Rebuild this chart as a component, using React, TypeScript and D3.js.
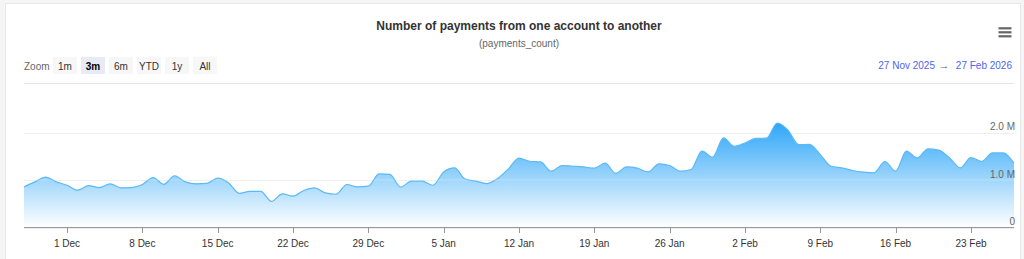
import React from "react";
import * as d3 from "d3";

// Daily payments_count (millions), 27 Nov 2025 .. 27 Feb 2026
const novValues = [0.855, 0.96, 1.06, 0.96];
const decValues = [
  0.89, 0.785, 0.88, 0.84, 0.92, 0.835, 0.84, 0.905, 1.05, 0.91, 1.09, 0.96, 0.92, 0.93, 1.04, 0.94,
  0.72, 0.76, 0.76, 0.55, 0.71, 0.66, 0.78, 0.835, 0.73, 0.7, 0.905, 0.855, 0.87, 1.13, 1.12,
];
const janValues = [
  0.85, 0.975, 0.975, 0.89, 1.17, 1.255, 1.02, 0.975, 0.925, 1.03, 1.23, 1.46, 1.395, 1.38, 1.185, 1.305,
  1.29, 1.275, 1.25, 1.355, 1.14, 1.275, 1.25, 1.17, 1.34, 1.305, 1.185, 1.22, 1.61, 1.48, 1.885,
];
const febValues = [
  1.71, 1.78, 1.875, 1.88, 2.2, 2.05, 1.745, 1.75, 1.535, 1.29, 1.255, 1.2, 1.165, 1.15, 1.39, 1.185,
  1.61, 1.465, 1.655, 1.63, 1.47, 1.255, 1.47, 1.39, 1.57, 1.57, 1.35,
];
const startDate = new Date(2025, 10, 27);
const endDate = new Date(2026, 1, 27);
const yTicks = [0, 1e6, 2e6];
const yTickLabels = ["0", "1.0 M", "2.0 M"];
const xTickDates = [
  new Date(2025, 11, 1), new Date(2025, 11, 8), new Date(2025, 11, 15), new Date(2025, 11, 22),
  new Date(2025, 11, 29), new Date(2026, 0, 5), new Date(2026, 0, 12), new Date(2026, 0, 19),
  new Date(2026, 0, 26), new Date(2026, 1, 2), new Date(2026, 1, 9), new Date(2026, 1, 16),
  new Date(2026, 1, 23),
];
const zoomButtons = ["1m", "3m", "6m", "YTD", "1y", "All"];
const selectedZoom = "3m";
const title = "Number of payments from one account to another";
const subtitle = "(payments_count)";
const rangeFrom = "27 Nov 2025";
const rangeTo = "27 Feb 2026";

const W = 1024;
const H = 259;
const FONT = '"Liberation Sans", Arial, Helvetica, sans-serif';

export default function App() {
  const allValues = [...novValues, ...decValues, ...janValues, ...febValues];
  const data = allValues.map((v, i) => ({ date: d3.timeDay.offset(startDate, i), value: v * 1e6 }));

  const x = d3.scaleTime().domain([startDate, endDate]).range([24, 1014]);
  const y = d3.scaleLinear().domain([0, 3e6]).range([227.5, 85]);

  const area = d3
    .area<{ date: Date; value: number }>()
    .x((d) => x(d.date))
    .y0(y(0))
    .y1((d) => y(d.value))
    .curve(d3.curveMonotoneX);
  const line = d3
    .line<{ date: Date; value: number }>()
    .x((d) => x(d.date))
    .y((d) => y(d.value))
    .curve(d3.curveMonotoneX);

  const maxV = d3.max(data, (d) => d.value) as number;
  const fmt = d3.timeFormat("%-d %b");

  return (
    <svg
      width={W}
      height={H}
      style={{ position: "absolute", left: 0, top: 0, fontFamily: FONT }}
    >
      <defs>
        <linearGradient id="areaGrad" gradientUnits="userSpaceOnUse" x1="0" x2="0" y1={y(maxV)} y2={y(0)}>
          <stop offset="0" stopColor="#2fa6f8" />
          <stop offset="1" stopColor="#ffffff" />
        </linearGradient>
        <clipPath id="plotClip">
          <rect x={24} y={80} width={990} height={148} />
        </clipPath>
      </defs>
      <rect x={0} y={0} width={W} height={H} fill="#f5f5f5" />
      <rect x={5.5} y={3.5} width={1015} height={H} fill="#ffffff" stroke="#e8e8e8" />

      {/* title */}
      <text x={519} y={30} textAnchor="middle" fontSize={12} fontWeight="bold" fill="#333333">
        {title}
      </text>
      <text x={519} y={47} textAnchor="middle" fontSize={10} fill="#666666">
        {subtitle}
      </text>

      {/* hamburger */}
      {[28.3, 32.3, 36.3].map((yy) => (
        <line key={yy} x1={998.5} x2={1011.5} y1={yy} y2={yy} stroke="#666666" strokeWidth={2.2} />
      ))}

      {/* range selector */}
      <text x={24} y={69.5} fontSize={10} fill="#666666">
        Zoom
      </text>
      {zoomButtons.map((b, i) => {
        const bx = 53 + i * 28;
        const sel = b === selectedZoom;
        return (
          <g key={b}>
            <rect x={bx} y={57} width={24} height={17} fill={sel ? "#e6ebf5" : "#f7f7f7"} />
            <text
              x={bx + 12}
              y={69.5}
              textAnchor="middle"
              fontSize={10}
              fontWeight={sel ? "bold" : "normal"}
              fill={sel ? "#000000" : "#333333"}
            >
              {b}
            </text>
          </g>
        );
      })}
      <text x={935} y={69} textAnchor="end" fontSize={10} fill="#4f63ef">
        {rangeFrom}
      </text>
      <text x={944} y={69} textAnchor="middle" fontSize={11} fill="#666666">
        {"\u2192"}
      </text>
      <text x={1012} y={69} textAnchor="end" fontSize={10} fill="#4f63ef">
        {rangeTo}
      </text>

      {/* grid */}
      <line x1={24} x2={1014} y1={83.5} y2={83.5} stroke="#e6e6e6" />
      {yTicks.map((t) => (
        <line
          key={t}
          x1={24}
          x2={1014}
          y1={Math.round(y(t)) + 0.5}
          y2={Math.round(y(t)) + 0.5}
          stroke="#eeeeee"
        />
      ))}

      {/* series */}
      <g clipPath="url(#plotClip)">
        <path d={area(data) || ""} fill="url(#areaGrad)" />
        <path d={line(data) || ""} fill="none" stroke="#5ab9f7" strokeWidth={1.2} />
      </g>
      <line x1={24} x2={1014} y1={y(1e6)} y2={y(1e6)} stroke="#ffffff" strokeOpacity={0.25} />

      {/* y labels */}
      {yTicks.map((t, i) => (
        <text key={t} x={1015} y={y(t) - 2.5} textAnchor="end" fontSize={10} fill="#666666">
          {yTickLabels[i]}
        </text>
      ))}

      {/* x axis */}
      <line x1={24} x2={1014} y1={227.5} y2={227.5} stroke="#999999" />
      {xTickDates.map((d) => (
        <g key={d.getTime()}>
          <line x1={Math.round(x(d)) + 0.5} x2={Math.round(x(d)) + 0.5} y1={228} y2={233} stroke="#999999" />
          <text x={x(d)} y={247} textAnchor="middle" fontSize={10} fill="#333333">
            {fmt(d)}
          </text>
        </g>
      ))}
    </svg>
  );
}
